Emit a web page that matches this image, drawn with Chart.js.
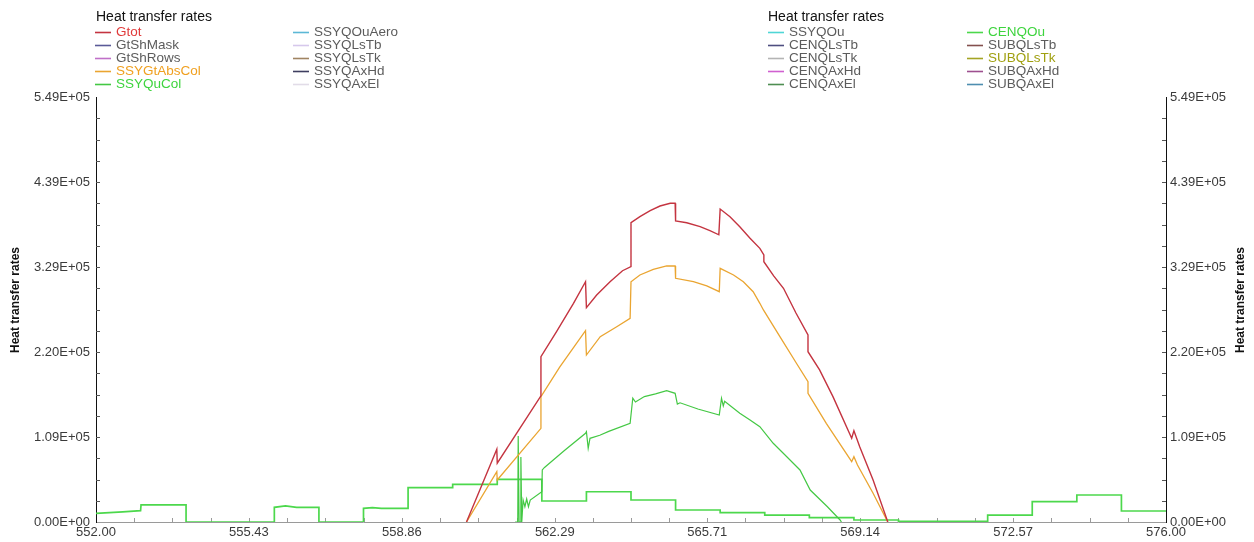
<!DOCTYPE html>
<html>
<head>
<meta charset="utf-8">
<title>Heat transfer rates</title>
<script src="https://cdn.jsdelivr.net/npm/chart.js@4.4.1/dist/chart.umd.min.js"></script>
<style>
  html, body { margin: 0; padding: 0; background: #fff; }
  canvas { display: block; }
</style>
</head>
<body>
<canvas id="heatChart" width="1254" height="542"></canvas>
<script>
// --- data (x = time, y = W) ---
const xTickValues = [552, 555.43, 558.86, 562.29, 565.71, 569.14, 572.57, 576];
const xTickLabels = ['552.00', '555.43', '558.86', '562.29', '565.71', '569.14', '572.57', '576.00'];
const yTickValues = [0, 109800, 219600, 329400, 439200, 549000];
const yTickLabels = ['0.00E+00', '1.09E+05', '2.20E+05', '3.29E+05', '4.39E+05', '5.49E+05'];

const gtot = [[560.31,0],[560.99,94000],[561.00,76000],[561.98,163000],[561.98,213500],[562.33,245800],
  [562.71,282500],[562.98,310400],[563.00,276800],[563.23,293200],[563.53,310400],[563.81,324600],
  [564.00,330000],[564.00,386600],[564.20,394400],[564.43,402200],[564.65,408200],[564.88,411700],
  [564.99,411700],[565.00,388800],[565.25,386600],[565.55,381500],[565.77,376300],[565.97,371000],
  [566.00,404300],[566.22,394400],[566.44,381500],[566.67,366500],[566.89,353500],[566.98,344900],
  [566.98,336300],[567.20,318000],[567.42,301900],[567.70,270000],[567.97,241600],[567.97,220000],
  [568.23,196400],[568.53,161900],[568.95,108100],[569.00,118000],[569.13,97300],[569.43,54300],
  [569.76,0]];

const ssyGtAbsCol = [[560.31,0],[560.99,65000],[561.00,54300],[561.98,121000],[561.98,161900],[562.40,200000],
  [562.98,247100],[563.00,215700],[563.31,239400],[563.68,252300],[563.98,263100],[564.00,310400],
  [564.20,319100],[564.50,326400],[564.80,330700],[564.99,330700],[565.00,314800],[565.40,310400],
  [565.70,304900],[565.98,297500],[566.00,327700],[566.30,319100],[566.52,310400],[566.74,297500],
  [566.89,282500],[566.97,273900],[567.34,239400],[567.70,206000],[567.97,181200],[567.97,166200],
  [568.38,127500],[568.95,77900],[569.00,84400],[569.08,73600],[569.43,37100],[569.76,0]];

const ssyQuCol = [[561.40,0],[561.46,0],[561.47,111000],[561.49,0],[561.52,0],[561.53,84000],[561.55,0],
  [561.58,28400],[561.62,19800],[561.66,29700],[561.70,19800],[561.74,28400],[562.00,39100],[562.01,67200],
  [562.06,70500],[562.50,92000],[562.98,114600],[563.00,116700],[563.04,95200],[563.08,108100],[563.30,112000],
  [563.50,117000],[563.98,127500],[564.04,160000],[564.10,155000],[564.30,162000],[564.55,165500],
  [564.80,169600],[564.99,166200],[565.04,152400],[565.10,154000],[565.50,146000],[565.98,138200],
  [566.03,159800],[566.07,150000],[566.10,156000],[566.44,140400],[566.67,131800],[566.89,123100],
  [567.19,101700],[567.50,84000],[567.79,67200],[568.02,41300],[568.40,20000],[568.69,2600],[568.72,0]];

const cenQOu = [[552.00,11200],[552.60,13000],[553.00,14600],[553.01,22000],[554.02,22000],[554.02,0],
  [556.00,0],[556.00,19000],[556.25,20700],[556.50,19000],[557.00,19000],[557.00,0],[558.00,0],
  [558.00,17700],[558.20,18500],[558.40,17700],[559.00,17700],[559.00,44300],[560.00,44300],
  [560.00,48700],[561.00,48700],[561.00,55100],[562.00,55100],[562.00,27100],[563.00,27100],
  [563.00,39100],[564.00,39100],[564.00,28400],[565.00,28400],[565.00,15500],[566.00,15500],
  [566.00,12000],[567.00,12000],[567.00,9000],[568.00,9000],[568.00,5600],[569.00,5600],
  [569.00,2600],[570.00,2600],[570.00,1000],[572.00,1000],[572.00,9000],[573.00,9000],
  [573.00,26200],[574.00,26200],[574.00,34900],[575.00,34900],[575.00,14200],[576.00,14200]];

const leftLegendCols = [
  ['Gtot', 'GtShMask', 'GtShRows', 'SSYGtAbsCol', 'SSYQuCol'],
  ['SSYQOuAero', 'SSYQLsTb', 'SSYQLsTk', 'SSYQAxHd', 'SSYQAxEl']
];
const rightLegendCols = [
  ['SSYQOu', 'CENQLsTb', 'CENQLsTk', 'CENQAxHd', 'CENQAxEl'],
  ['CENQOu', 'SUBQLsTb', 'SUBQLsTk', 'SUBQAxHd', 'SUBQAxEl']
];
const seriesData = { Gtot: gtot, SSYGtAbsCol: ssyGtAbsCol, SSYQuCol: ssyQuCol, CENQOu: cenQOu };

// --- styling ---
const COLORS = {
  Gtot: '#c43440', GtShMask: '#5a5a98', GtShRows: '#c070c8', SSYGtAbsCol: '#eaa531', SSYQuCol: '#44c844',
  SSYQOuAero: '#5cb8d6', SSYQLsTb: '#d6c8ec', SSYQLsTk: '#a08462', SSYQAxHd: '#3e3e60', SSYQAxEl: '#e2dce8',
  SSYQOu: '#4fd6d6', CENQLsTb: '#4e4e80', CENQLsTk: '#b4b4b4', CENQAxHd: '#d060d0', CENQAxEl: '#4e8e52',
  CENQOu: '#4cd84c', SUBQLsTb: '#84504e', SUBQLsTk: '#a4a424', SUBQAxHd: '#9e5090', SUBQAxEl: '#4e8eb0'
};
const TEXT_COLORS = { Gtot: '#e03a3a', SSYGtAbsCol: '#f0a020', SSYQuCol: '#3ed43e', CENQOu: '#3ed43e', SUBQLsTk: '#a0a010' };
const WIDTHS = { Gtot: 1.4, SSYGtAbsCol: 1.3, SSYQuCol: 1.2, CENQOu: 1.7 };
const FONT = 'Arial, "Liberation Sans", sans-serif';

const PLOT = { left: 96, right: 1166, top: 97, bottom: 522 };

const allNames = leftLegendCols.flat().concat(rightLegendCols.flat());
const datasets = allNames.map(name => ({
  label: name,
  data: (seriesData[name] || []).map(p => ({ x: p[0], y: p[1] })),
  borderColor: COLORS[name],
  backgroundColor: COLORS[name],
  borderWidth: WIDTHS[name] || 1.2,
  pointRadius: 0,
  tension: 0,
  fill: false,
  yAxisID: rightLegendCols.flat().includes(name) ? 'y2' : 'y'
}));

const frame = {
  id: 'frame',
  beforeDatasetsDraw(chart) {
    const { ctx, chartArea: a } = chart;
    const xs = chart.scales.x, ys = chart.scales.y;
    ctx.save();
    ctx.lineWidth = 1;
    // bottom axis
    ctx.strokeStyle = '#9a9a9a';
    ctx.beginPath(); ctx.moveTo(a.left, a.bottom + 0.5); ctx.lineTo(a.right, a.bottom + 0.5); ctx.stroke();
    // inward tick marks on x
    for (let i = 0; i < xTickValues.length - 1; i++) {
      for (let k = 0; k < 4; k++) {
        const v = xTickValues[i] + (xTickValues[i + 1] - xTickValues[i]) * k / 4;
        const px = Math.round(xs.getPixelForValue(v)) + 0.5;
        ctx.beginPath(); ctx.moveTo(px, a.bottom); ctx.lineTo(px, a.bottom - 4); ctx.stroke();
      }
    }
    // left & right axes
    ctx.strokeStyle = '#111';
    ctx.beginPath(); ctx.moveTo(a.left + 0.5, a.top); ctx.lineTo(a.left + 0.5, a.bottom + 1); ctx.stroke();
    ctx.beginPath(); ctx.moveTo(a.right + 0.5, a.top); ctx.lineTo(a.right + 0.5, a.bottom + 1); ctx.stroke();
    ctx.strokeStyle = '#555';
    for (let i = 0; i < yTickValues.length - 1; i++) {
      for (let k = 0; k < 4; k++) {
        const v = yTickValues[i] + (yTickValues[i + 1] - yTickValues[i]) * k / 4;
        const py = Math.round(ys.getPixelForValue(v)) + 0.5;
        if (k === 0 && i === 0) continue;
        ctx.beginPath(); ctx.moveTo(a.left, py); ctx.lineTo(a.left + 4, py); ctx.stroke();
        ctx.beginPath(); ctx.moveTo(a.right, py); ctx.lineTo(a.right - 4, py); ctx.stroke();
      }
    }
    ctx.restore();
  },
  afterDraw(chart) {
    const ctx = chart.ctx;
    ctx.save();
    // axis titles (both read bottom-to-top)
    ctx.font = 'bold 12px ' + FONT;
    ctx.fillStyle = '#111';
    ctx.textAlign = 'center';
    ctx.textBaseline = 'middle';
    [16, 1241].forEach(x => {
      ctx.save();
      ctx.translate(x, 300);
      ctx.rotate(-Math.PI / 2);
      ctx.fillText('Heat transfer rates', 0, 0);
      ctx.restore();
    });
    // two legend blocks
    const blocks = [
      { x: 96, cols: leftLegendCols, colX: [95, 293] },
      { x: 768, cols: rightLegendCols, colX: [768, 967] }
    ];
    ctx.textAlign = 'left';
    blocks.forEach(b => {
      ctx.font = '14px ' + FONT;
      ctx.fillStyle = '#111';
      ctx.fillText('Heat transfer rates', b.x, 17);
      b.cols.forEach((col, ci) => {
        col.forEach((name, ri) => {
          const y = 32 + ri * 13;
          const lx = b.colX[ci];
          ctx.strokeStyle = COLORS[name];
          ctx.lineWidth = 1.6;
          ctx.beginPath(); ctx.moveTo(lx, y + 0.5); ctx.lineTo(lx + 16, y + 0.5); ctx.stroke();
          ctx.fillStyle = TEXT_COLORS[name] || '#5c5c5c';
          ctx.font = '13.5px ' + FONT;
          ctx.fillText(name, lx + 21, y);
        });
      });
    });
    ctx.restore();
  }
};

const yScale = (position, width) => ({
  type: 'linear',
  position,
  min: 0,
  max: 549000,
  grid: { display: false, drawTicks: false },
  border: { display: false },
  afterBuildTicks: s => { s.ticks = yTickValues.map(v => ({ value: v })); },
  afterFit: s => { s.width = width; },
  ticks: {
    padding: position === 'left' ? 6 : 4,
    color: '#3a3a3a',
    font: { family: FONT, size: 13 },
    callback: (v, i) => yTickLabels[i]
  }
});

new Chart(document.getElementById('heatChart'), {
  type: 'line',
  data: { datasets },
  options: {
    responsive: false,
    animation: false,
    layout: { padding: { top: PLOT.top, left: 0, right: 0, bottom: 0 } },
    plugins: { legend: { display: false }, tooltip: { enabled: false } },
    scales: {
      x: {
        type: 'linear',
        min: 552,
        max: 576,
        grid: { display: false, drawTicks: false },
        border: { display: false },
        afterBuildTicks: s => { s.ticks = xTickValues.map(v => ({ value: v })); },
        afterFit: s => { s.height = 542 - PLOT.bottom; },
        ticks: {
          padding: 3,
          maxRotation: 0,
          autoSkip: false,
          color: '#3a3a3a',
          font: { family: FONT, size: 13 },
          callback: (v, i) => xTickLabels[i]
        }
      },
      y: yScale('left', PLOT.left),
      y2: yScale('right', 1254 - PLOT.right)
    }
  },
  plugins: [frame]
});
</script>
</body>
</html>
